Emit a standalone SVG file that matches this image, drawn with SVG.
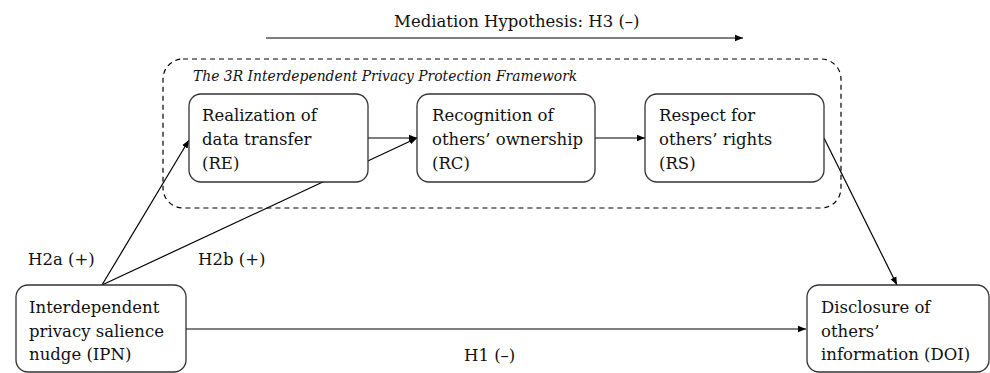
<svg xmlns="http://www.w3.org/2000/svg" width="990" height="373" viewBox="0 0 990 373">
<defs>
<marker id="ah" viewBox="0 0 10 10" refX="10" refY="5" markerWidth="8" markerHeight="8" markerUnits="userSpaceOnUse" orient="auto">
<path d="M0,1 L10,5 L0,9 z" fill="#000"/>
</marker>
<style>
.t{font-family:"DejaVu Serif","Liberation Serif",serif;font-size:16.5px;fill:#111}
.ti{font-family:"DejaVu Serif","Liberation Serif",serif;font-size:13.9px;font-style:italic;fill:#111}
.box{fill:#fff;stroke:#333;stroke-width:1.3}
.c{stroke:#000;stroke-width:1.2;fill:none}
</style>
</defs>
<rect width="990" height="373" fill="#fff"/>
<g id="mediation">
<text class="t" x="394" y="27">Mediation Hypothesis: H3 (–)</text>
<line class="c" x1="266" y1="38" x2="743" y2="38" marker-end="url(#ah)"/>
</g>
<g id="framework">
<rect x="163" y="59" width="678" height="149" rx="20" fill="none" stroke="#000" stroke-width="1.2" stroke-dasharray="5,4"/>
<text class="ti" x="193" y="81">The 3R Interdependent Privacy Protection Framework</text>
</g>
<g id="connectors">
<line class="c" x1="102" y1="285" x2="189" y2="140" marker-end="url(#ah)"/>
<line class="c" x1="102" y1="285" x2="417" y2="138" marker-end="url(#ah)"/>
<line class="c" x1="368" y1="138" x2="417" y2="138" marker-end="url(#ah)"/>
<line class="c" x1="595" y1="138" x2="645" y2="138" marker-end="url(#ah)"/>
<line class="c" x1="824" y1="138" x2="897" y2="285" marker-end="url(#ah)"/>
<line class="c" x1="186" y1="329" x2="806" y2="329" marker-end="url(#ah)"/>
<text class="t" x="28" y="265">H2a (+)</text>
<text class="t" x="198" y="265">H2b (+)</text>
<text class="t" x="464" y="361">H1 (–)</text>
</g>
<g id="RE">
<rect class="box" x="189" y="94" width="179" height="88" rx="12"/>
<text class="t" x="202" y="121">Realization of</text>
<text class="t" x="202" y="145">data transfer</text>
<text class="t" x="202" y="169">(RE)</text>
</g>
<g id="RC">
<rect class="box" x="417" y="94" width="178" height="88" rx="12"/>
<text class="t" x="432" y="121">Recognition of</text>
<text class="t" x="432" y="145">others’ ownership</text>
<text class="t" x="432" y="169">(RC)</text>
</g>
<g id="RS">
<rect class="box" x="645" y="94" width="179" height="88" rx="12"/>
<text class="t" x="659" y="121">Respect for</text>
<text class="t" x="659" y="145">others’ rights</text>
<text class="t" x="659" y="169">(RS)</text>
</g>
<g id="IPN">
<rect class="box" x="16" y="285" width="170" height="87" rx="12"/>
<text class="t" x="29" y="313">Interdependent</text>
<text class="t" x="29" y="337">privacy salience</text>
<text class="t" x="29" y="360">nudge (IPN)</text>
</g>
<g id="DOI">
<rect class="box" x="807" y="285" width="182" height="87" rx="12"/>
<text class="t" x="821" y="313">Disclosure of</text>
<text class="t" x="821" y="337">others’</text>
<text class="t" x="821" y="360">information (DOI)</text>
</g>
</svg>
